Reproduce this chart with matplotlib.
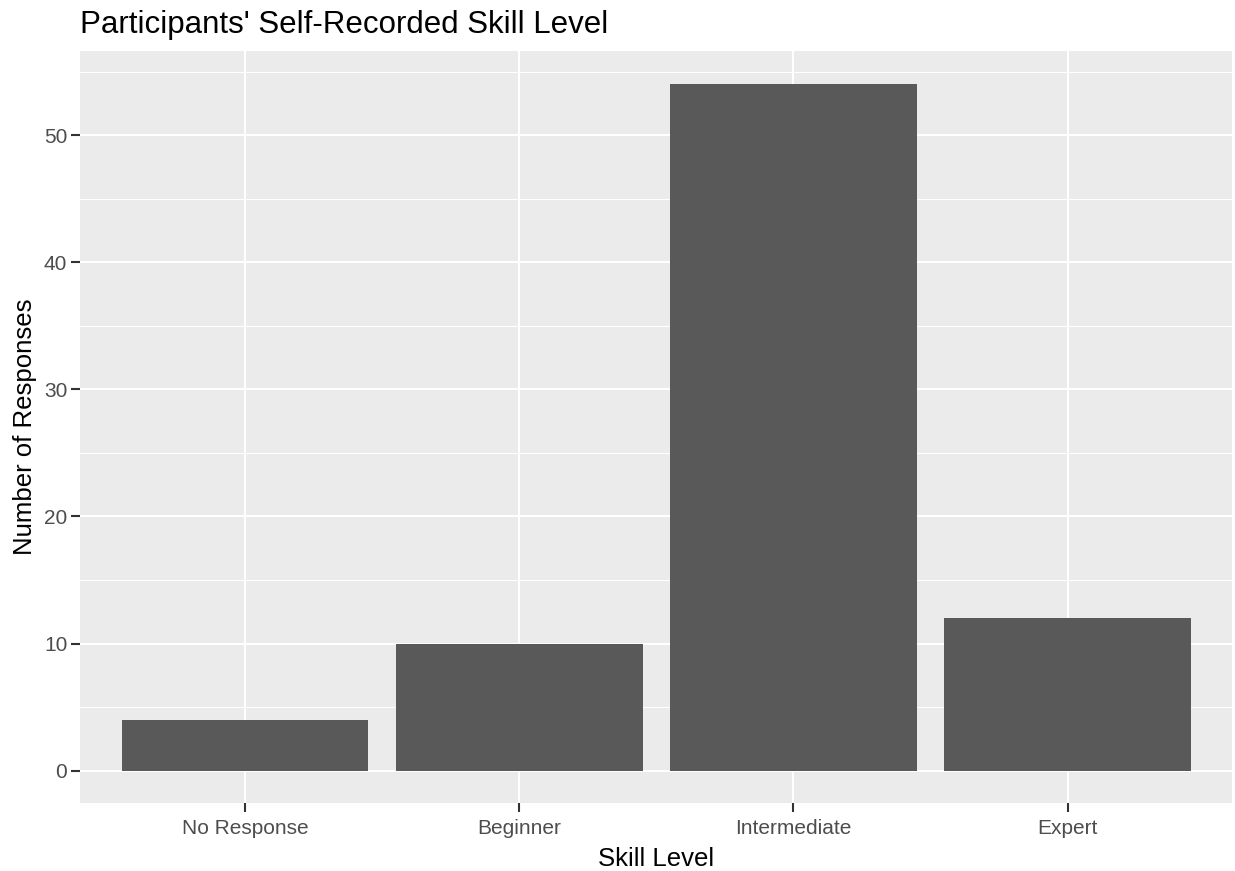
import numpy as np
import matplotlib.pyplot as plt

plt.rcParams['font.family'] = ['Liberation Sans', 'DejaVu Sans']

# dados
categorias = ["No Response", "Beginner", "Intermediate", "Expert"]
respostas = [4, 10, 54, 12]
ticks_y = [0, 10, 20, 30, 40, 50]

fig = plt.figure(figsize=(12.35, 8.71), dpi=100)
ax = fig.add_axes([80.5/1235, 1-803.3/871, (1232-80.5)/1235, (803.3-50.7)/871])

x = np.arange(1, len(categorias)+1)
ax.set_facecolor("#EBEBEB")
ax.bar(x, respostas, width=0.9, color="#595959", zorder=3)

# grade estilo ggplot
ax.set_xlim(0.4, 4.6)
ax.set_ylim(-2.57, 56.65)
ax.set_xticks(x)
ax.set_xticklabels(categorias)
ax.set_yticks(ticks_y)
ax.set_yticks([5, 15, 25, 35, 45, 55], minor=True)
ax.grid(which="major", color="white", linewidth=1.5, zorder=1)
ax.grid(which="minor", axis="y", color="white", linewidth=0.75, zorder=1)
ax.tick_params(which="major", length=6.5, width=1.5, color="#333333",
               labelcolor="#4D4D4D", labelsize=15, pad=3)
ax.tick_params(axis="x", which="major", pad=5)
ax.tick_params(which="minor", length=0)
for s in ax.spines.values():
    s.set_visible(False)

ax.set_xlabel("Skill Level", fontsize=18.5, labelpad=6)
ax.set_ylabel("Number of Responses", fontsize=18.5, labelpad=5)
fig.text(80.5/1235, 1-33/871, "Participants' Self-Recorded Skill Level",
         fontsize=22.5, ha="left", va="baseline")

fig.savefig("out.png", dpi=100)
